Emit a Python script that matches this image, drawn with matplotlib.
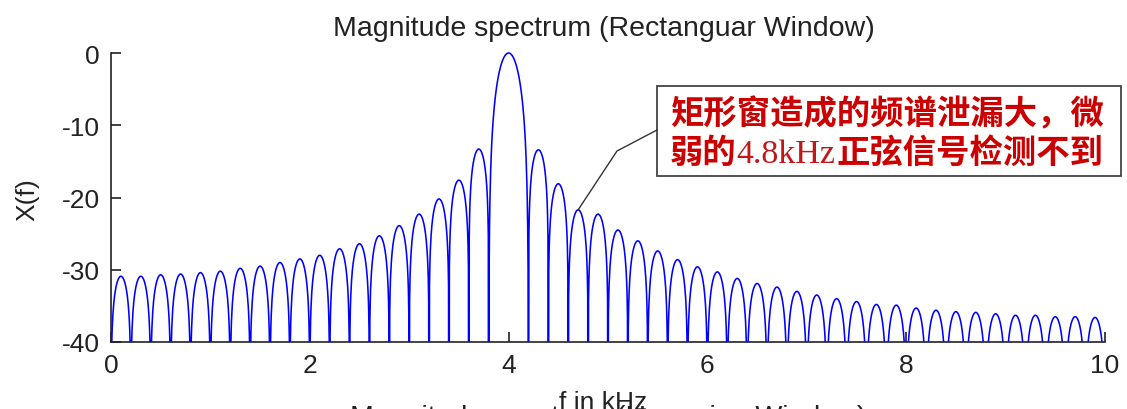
import numpy as np
import matplotlib
matplotlib.use("Agg")
import matplotlib.pyplot as plt
from matplotlib.patches import Rectangle
from matplotlib.lines import Line2D
from matplotlib.transforms import Bbox, TransformedBbox

# ---- data ----
# centres (kHz) of every lobe of the spectrum, main lobe at 4 kHz
lobe_centers_khz = [0.1, 0.3, 0.5, 0.7, 0.9, 1.1, 1.3, 1.5, 1.7, 1.9,
                    2.1, 2.3, 2.5, 2.7, 2.9, 3.1, 3.3, 3.5, 3.7,
                    4.0,
                    4.3, 4.5, 4.7, 4.9, 5.1, 5.3, 5.5, 5.7, 5.9, 6.1,
                    6.3, 6.5, 6.7, 6.9, 7.1, 7.3, 7.5, 7.7, 7.9, 8.1,
                    8.3, 8.5, 8.7, 8.9, 9.1, 9.3, 9.5, 9.7, 9.9]
# peak level of each lobe (dB)
lobe_peaks_db = [-30.9, -30.9, -30.7, -30.6, -30.4, -30.2, -29.8, -29.5, -29.0, -28.5,
                 -28.0, -27.1, -26.4, -25.3, -23.9, -22.3, -20.2, -17.6, -13.3,
                 0.0,
                 -13.4, -18.1, -21.7, -22.3, -24.5, -26.0, -27.4, -28.6, -29.6, -30.3,
                 -31.2, -31.9, -32.4, -33.0, -33.5, -34.0, -34.4, -34.8, -34.9, -35.3,
                 -35.6, -35.8, -35.9, -36.1, -36.3, -36.3, -36.5, -36.5, -36.6]
main_lobe_center_khz = 4.0
main_lobe_halfwidth_khz = 0.2
side_lobe_halfwidth_khz = 0.1
main_lobe_sharpness = 1.0     # exponent of the lobe shape
side_lobe_sharpness = 0.5
freq_step_khz = 0.004         # drawing resolution
f_max_khz = 10.0

x_ticks = [0, 2, 4, 6, 8, 10]
y_ticks = [0, -10, -20, -30, -40]

title_text = "Magnitude spectrum (Rectanguar Window)"
next_title_text = "Magnitude spectrum (Hamming Window)"
xlabel_text = "f in kHz"
ylabel_text = "X(f)"
note_line1 = "矩形窗造成的频谱泄漏大，微"
note_line2_parts = ["弱的", "4.8kHz", "正弦信号检测不到"]
note_target = (4.7, -21.7)

# ---- spectrum built from the lobe levels ----
centers = np.array(lobe_centers_khz)
peaks = np.array(lobe_peaks_db)
side = centers != main_lobe_center_khz
f_all = np.linspace(0, f_max_khz, int(round(f_max_khz / freq_step_khz)) + 1)
y_all = np.empty_like(f_all)
for i, f in enumerate(f_all):
    if abs(f - main_lobe_center_khz) <= main_lobe_halfwidth_khz:
        c, p = main_lobe_center_khz, peaks[~side][0]
        w, a = main_lobe_halfwidth_khz, main_lobe_sharpness
    else:
        k = np.argmin(np.abs(centers[side] - f))
        c, p = centers[side][k], peaks[side][k]
        w, a = side_lobe_halfwidth_khz, side_lobe_sharpness
    shape = abs(np.cos(np.pi * (f - c) / (2 * w)))
    y_all[i] = p + a * 20 * np.log10(max(shape, 1e-8))

W, H = 1127, 410
fig = plt.figure(figsize=(W / 100, H / 100), dpi=100)
fig.patch.set_facecolor("white")

def fx(px):
    return px / W

def fy(py):
    return 1 - py / H

ax = fig.add_axes([fx(111), fy(343), fx(1105) - fx(111), fy(54) - fy(343)])
ax.set_xlim(0, 10)
ax.set_ylim(-40, 0)
line, = ax.plot(f_all, y_all, color="#0000FF", lw=1.15, zorder=3)
line.set_clip_box(TransformedBbox(Bbox([[-0.1, -40], [10.1, 1.5]]), ax.transData))
ax.set_xticks(x_ticks)
ax.set_yticks(y_ticks)
ax.set_xticklabels([str(t) for t in x_ticks])
ax.set_yticklabels([str(t) for t in y_ticks])
for s in ["top", "right"]:
    ax.spines[s].set_visible(False)
for s in ["left", "bottom"]:
    ax.spines[s].set_linewidth(1.2)
    ax.spines[s].set_color("#222222")
    ax.spines[s].set_zorder(4)
ax.tick_params(direction="in", length=7, width=1.2, color="#222222",
               labelsize=19, labelcolor="#222222", pad=8)
for lab in ax.get_xticklabels() + ax.get_yticklabels():
    lab.set_family("Liberation Sans")

sans = "Liberation Sans"
fig.text(fx(604), fy(36.5), title_text, ha="center", va="baseline",
         fontsize=20.5, family=sans, color="#222222")
fig.text(fx(27), fy(200), ylabel_text, ha="center", va="center", rotation=90,
         fontsize=19, family=sans, color="#222222")
fig.text(fx(603), fy(410), xlabel_text, ha="center", va="baseline",
         fontsize=19, family=sans, color="#222222")
fig.text(fx(608), fy(425), next_title_text, ha="center", va="baseline",
         fontsize=20.5, family=sans, color="#222222")

# annotation box
box = Rectangle((fx(657), fy(177)), fx(1121) - fx(657), fy(87) - fy(177),
                transform=fig.transFigure, facecolor="white",
                edgecolor="#444444", lw=1.3, zorder=5)
fig.add_artist(box)
red = "#CC0000"
cjk = ["Noto Sans CJK SC", "DejaVu Sans"]
fig.text(fx(670), fy(124), note_line1, ha="left", va="baseline", fontsize=24,
         family=cjk, weight="bold", color=red, zorder=6)
fig.text(fx(670), fy(163), note_line2_parts[0], ha="left", va="baseline", fontsize=24,
         family=cjk, weight="bold", color=red, zorder=6)
fig.text(fx(736), fy(163), note_line2_parts[1], ha="left", va="baseline", fontsize=24.5,
         family="Liberation Serif", color="#C01818", zorder=6)
fig.text(fx(837), fy(163), note_line2_parts[2], ha="left", va="baseline", fontsize=24,
         family=cjk, weight="bold", color=red, zorder=6)

# leader line from the lobe to the box
tx, ty = ax.transData.transform(note_target)
tx, ty = fig.transFigure.inverted().transform((tx, ty))
leader = Line2D([tx, fx(617), fx(657)], [ty, fy(152), fy(131)],
                transform=fig.transFigure, color="#333333", lw=1.0, zorder=5)
fig.add_artist(leader)

fig.savefig("out.png", dpi=100, facecolor="white")
